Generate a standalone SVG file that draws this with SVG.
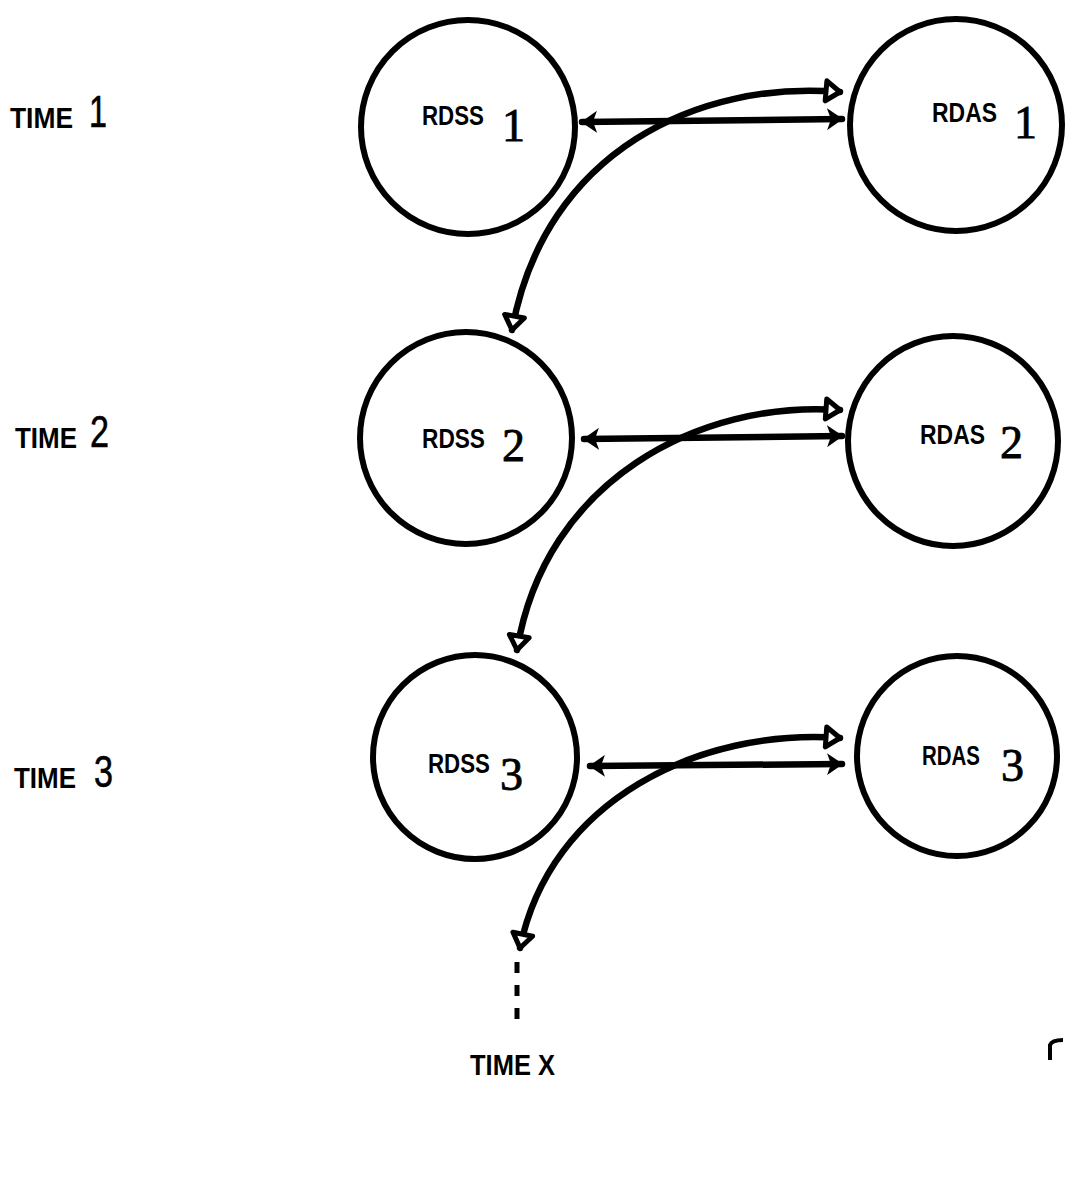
<svg xmlns="http://www.w3.org/2000/svg" width="1065" height="1181" viewBox="0 0 1065 1181">
<style>
.node{fill:#fff;stroke:#000;stroke-width:6}
.lbl{font-family:"Liberation Sans",Arial,sans-serif;font-size:27px;font-weight:bold;fill:#000}
.num{font-family:"Liberation Serif","Times New Roman",serif;font-size:46px;fill:#000;stroke:#000;stroke-width:0.8}
.time{font-family:"Liberation Sans",Arial,sans-serif;font-size:29px;font-weight:bold;fill:#000}
.tnum{font-family:"Liberation Sans",Arial,sans-serif;font-size:44px;fill:#000;stroke:#000;stroke-width:0.6}
.conn{fill:none;stroke:#000;stroke-width:6.5;stroke-linecap:round}
</style>
<defs>
<marker id="fa" viewBox="0 0 16 22" refX="15" refY="11" markerWidth="16" markerHeight="22" markerUnits="userSpaceOnUse" orient="auto-start-reverse">
<path d="M0,0 L16,11 L0,22 L4,11 z" fill="#000"/>
</marker>
<marker id="oa" viewBox="-3 -3 22 26" refX="14" refY="10" markerWidth="22" markerHeight="26" markerUnits="userSpaceOnUse" orient="auto-start-reverse">
<path d="M0,0 L14,10 L0,20 z" fill="#fff" stroke="#000" stroke-width="5" stroke-linejoin="round"/>
</marker>
</defs>
<rect width="1065" height="1181" fill="#fff"/>

<g id="time-labels">
<g id="time1"><text class="time" x="10" y="128" textLength="63" lengthAdjust="spacingAndGlyphs">TIME</text><text class="tnum" x="89" y="127" textLength="18" lengthAdjust="spacingAndGlyphs">1</text></g>
<g id="time2"><text class="time" x="15" y="448" textLength="62" lengthAdjust="spacingAndGlyphs">TIME</text><text class="tnum" x="90" y="447" textLength="19" lengthAdjust="spacingAndGlyphs">2</text></g>
<g id="time3"><text class="time" x="14" y="788" textLength="62" lengthAdjust="spacingAndGlyphs">TIME</text><text class="tnum" x="94" y="787" textLength="19" lengthAdjust="spacingAndGlyphs">3</text></g>
<g id="timeX"><text class="time" x="470" y="1075" textLength="85" lengthAdjust="spacingAndGlyphs">TIME X</text></g>
</g>

<g id="connectors">
<path class="conn" d="M582,122 L842,119" marker-start="url(#fa)" marker-end="url(#fa)"/>
<path class="conn" d="M840,92 C700,80 545,150 512,330" marker-start="url(#oa)" marker-end="url(#oa)"/>
<path class="conn" d="M584,439 L842,436" marker-start="url(#fa)" marker-end="url(#fa)"/>
<path class="conn" d="M840,410 C700,400 545,480 517,650" marker-start="url(#oa)" marker-end="url(#oa)"/>
<path class="conn" d="M590,766 L842,764" marker-start="url(#fa)" marker-end="url(#fa)"/>
<path class="conn" d="M840,738 C700,728 550,800 520,948" marker-start="url(#oa)" marker-end="url(#oa)"/>
<path d="M517,962 L517,1025" fill="none" stroke="#000" stroke-width="5" stroke-dasharray="11 12"/>
</g>

<g id="rdss1"><circle class="node" cx="468" cy="127" r="107"/><text class="lbl" x="422" y="125" textLength="62" lengthAdjust="spacingAndGlyphs">RDSS</text><text class="num" x="502" y="141">1</text></g>
<g id="rdas1"><circle class="node" cx="956" cy="125" r="106"/><text class="lbl" x="932" y="122" textLength="65" lengthAdjust="spacingAndGlyphs">RDAS</text><text class="num" x="1014" y="138">1</text></g>
<g id="rdss2"><circle class="node" cx="466" cy="438" r="106"/><text class="lbl" x="422" y="448" textLength="63" lengthAdjust="spacingAndGlyphs">RDSS</text><text class="num" x="502" y="461">2</text></g>
<g id="rdas2"><circle class="node" cx="953" cy="441" r="105"/><text class="lbl" x="920" y="444" textLength="65" lengthAdjust="spacingAndGlyphs">RDAS</text><text class="num" x="1000" y="458">2</text></g>
<g id="rdss3"><circle class="node" cx="475" cy="757" r="102"/><text class="lbl" x="428" y="773" textLength="62" lengthAdjust="spacingAndGlyphs">RDSS</text><text class="num" x="500" y="790">3</text></g>
<g id="rdas3"><circle class="node" cx="957" cy="756" r="100"/><text class="lbl" x="922" y="765" textLength="58" lengthAdjust="spacingAndGlyphs">RDAS</text><text class="num" x="1001" y="781">3</text></g>

<path d="M1050,1060 L1050,1045 Q1052,1040 1063,1040" fill="none" stroke="#000" stroke-width="4"/>
</svg>
